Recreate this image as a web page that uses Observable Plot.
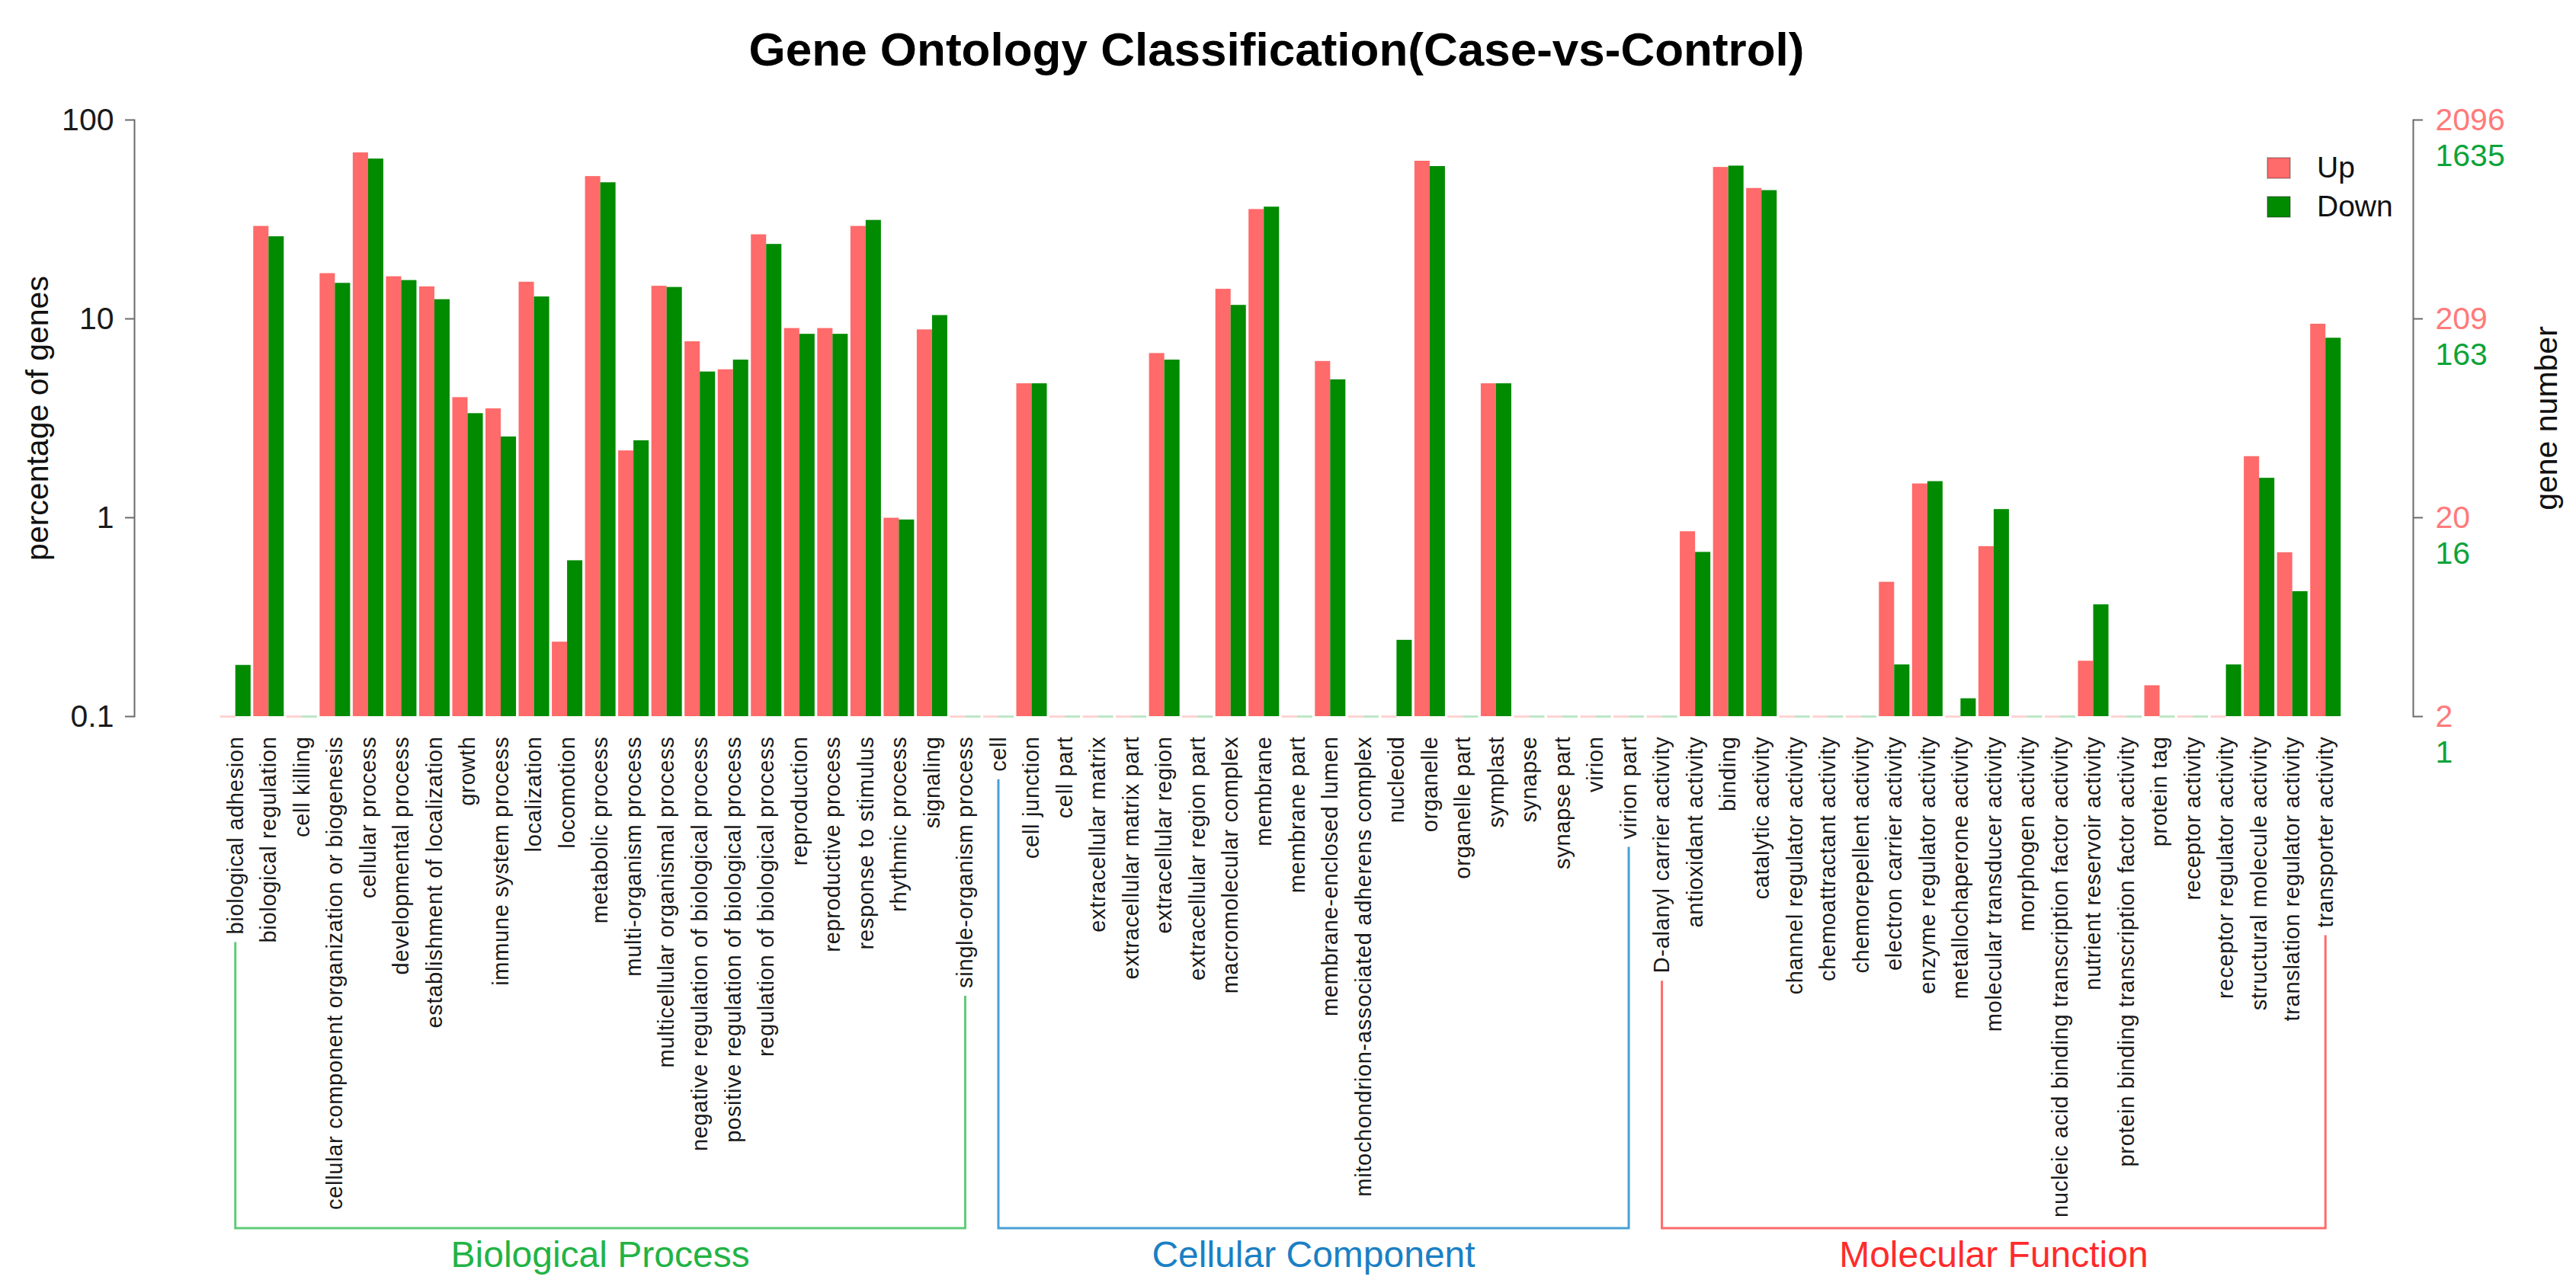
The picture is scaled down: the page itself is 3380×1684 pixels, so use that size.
<!DOCTYPE html>
<html>
<head>
<meta charset="utf-8">
<script src="https://cdn.jsdelivr.net/npm/d3@7"></script>
<script src="https://cdn.jsdelivr.net/npm/@observablehq/plot@0.6"></script>
<style>
html,body{margin:0;padding:0;background:#fff;}
body{width:3380px;height:1684px;overflow:hidden;font-family:"Liberation Sans",Arial,sans-serif;}
#wrap{position:relative;width:3380px;height:1684px;}
#title{height:120px;line-height:130px;text-align:center;font-size:62px;font-weight:bold;color:#000;padding-right:30px;white-space:nowrap;}
#chart{height:1564px;}
#legend{position:absolute;left:2975px;top:195px;}
#legend div div{line-height:50px;font-size:39px;color:#111;font-family:"Liberation Sans",Arial,sans-serif;}
#legend svg{margin-right:35px !important;}
#legend svg rect{stroke:rgba(0,0,0,0.3);stroke-width:1.5px;}
#chart g[aria-label="x-axis tick label"]{letter-spacing:0.7px;}
</style>
</head>
<body>
<div id="wrap">
  <div id="title">Gene Ontology Classification(Case-vs-Control)</div>
  <div id="chart"></div>
  <div id="legend"></div>
</div>
<script>
// ---------------- data ----------------
const groups = ["Biological Process", "Cellular Component", "Molecular Function"];
const series = ["Up", "Down"];

const bpTerms = ["biological adhesion","biological regulation","cell killing","cellular component organization or biogenesis","cellular process","developmental process","establishment of localization","growth","immune system process","localization","locomotion","metabolic process","multi-organism process","multicellular organismal process","negative regulation of biological process","positive regulation of biological process","regulation of biological process","reproduction","reproductive process","response to stimulus","rhythmic process","signaling","single-organism process"];
const bpUp   = [0, 29.2, 0, 16.9, 68.4, 16.3, 14.5, 4.02, 3.53, 15.3, 0.237, 52.0, 2.17, 14.6, 7.68, 5.55, 26.5, 8.95, 8.95, 29.2, 0.995, 8.81, 0];
const bpDown = [0.181, 25.9, 0, 15.1, 63.7, 15.6, 12.5, 3.34, 2.55, 12.9, 0.608, 48.4, 2.44, 14.4, 5.41, 6.21, 23.7, 8.37, 8.37, 31.3, 0.975, 10.4, 0];

const ccTerms = ["cell","cell junction","cell part","extracellular matrix","extracellular matrix part","extracellular region","extracellular region part","macromolecular complex","membrane","membrane part","membrane-enclosed lumen","mitochondrion-associated adherens complex","nucleoid","organelle","organelle part","symplast","synapse","synapse part","virion","virion part"];
const ccUp   = [0, 4.72, 0, 0, 0, 6.70, 0, 14.1, 35.5, 0, 6.11, 0, 0, 62.1, 0, 4.72, 0, 0, 0, 0];
const ccDown = [0, 4.72, 0, 0, 0, 6.21, 0, 11.7, 36.5, 0, 4.94, 0, 0.242, 58.4, 0, 4.72, 0, 0, 0, 0];

const mfTerms = ["D-alanyl carrier activity","antioxidant activity","binding","catalytic activity","channel regulator activity","chemoattractant activity","chemorepellent activity","electron carrier activity","enzyme regulator activity","metallochaperone activity","molecular transducer activity","morphogen activity","nucleic acid binding transcription factor activity","nutrient reservoir activity","protein binding transcription factor activity","protein tag","receptor activity","receptor regulator activity","structural molecule activity","translation regulator activity","transporter activity"];
const mfUp   = [0, 0.851, 57.8, 45.3, 0, 0, 0, 0.474, 1.48, 0, 0.716, 0, 0, 0.190, 0, 0.143, 0, 0, 2.03, 0.667, 9.41];
const mfDown = [0, 0.670, 58.7, 44.2, 0, 0, 0, 0.182, 1.52, 0.123, 1.10, 0, 0, 0.365, 0, 0, 0, 0.182, 1.58, 0.425, 8.00];

const yTicks = [0.1, 1, 10, 100];
const yTickLabels = ["0.1", "1", "10", "100"];
const upCountLabels = ["2", "20", "209", "2096"];
const downCountLabels = ["1", "16", "163", "1635"];

// ---------------- styles ----------------
const seriesColors = ["#FF6A6A", "#008B00"];
const stubColors = ["#FFD2D2", "#BDE6C6"];
const groupTextColors = ["#22B345", "#1A80C4", "#FF2B2B"];
const groupLineColors = ["#5ECB78", "#4A9FD6", "#FF6A6A"];
const countColors = ["#FF7A7A", "#0DA33A"];
const FONT = "Liberation Sans, Arial, sans-serif";

// ---------------- table ----------------
const groupTerms = [bpTerms, ccTerms, mfTerms];
const groupUp = [bpUp, ccUp, mfUp];
const groupDown = [bpDown, ccDown, mfDown];
const terms = groupTerms.flat();
const rows = [];
groupTerms.forEach((ts, g) => ts.forEach((t, i) => {
  rows.push({group: groups[g], term: t, series: series[0], value: groupUp[g][i]});
  rows.push({group: groups[g], term: t, series: series[1], value: groupDown[g][i]});
}));
const yMin = yTicks[0], yMax = yTicks[yTicks.length - 1];
const fmtLeft = new Map(yTicks.map((v, i) => [v, yTickLabels[i]]));
const fmtUp = new Map(yTicks.map((v, i) => [v, upCountLabels[i]]));
const fmtDown = new Map(yTicks.map((v, i) => [v, downCountLabels[i]]));

const W = 3380, H = 1564;

function build(half) {
  const upBars = rows.filter(d => d.series === series[0] && d.value > 0);
  const downBars = rows.filter(d => d.series === series[1] && d.value > 0);
  const upZero = rows.filter(d => d.series === series[0] && !(d.value > 0));
  const downZero = rows.filter(d => d.series === series[1] && !(d.value > 0));
  return Plot.plot({
    width: W, height: H,
    marginLeft: 176, marginRight: 214, marginTop: 37, marginBottom: 744,
    style: {fontFamily: FONT, background: "white", overflow: "visible"},
    x: {type: "band", domain: terms, paddingInner: 0.08, paddingOuter: 0.04, insetLeft: 111, insetRight: 93, axis: null, label: null},
    y: {type: "log", domain: [yMin, yMax], axis: null, label: null},
    marks: [
      Plot.tickY(upZero, {x: "term", y: () => yMin, stroke: stubColors[0], strokeWidth: 3, insetRight: half}),
      Plot.tickY(downZero, {x: "term", y: () => yMin, stroke: stubColors[1], strokeWidth: 3, insetLeft: half}),
      Plot.barY(upBars, {x: "term", y1: () => yMin, y2: "value", fill: seriesColors[0], insetRight: half}),
      Plot.barY(downBars, {x: "term", y1: () => yMin, y2: "value", fill: seriesColors[1], insetLeft: half}),
      Plot.frame({anchor: "left", stroke: "#6b6b6b", strokeWidth: 2}),
      Plot.frame({anchor: "right", stroke: "#6b6b6b", strokeWidth: 2}),
      Plot.axisY(yTicks, {anchor: "left", label: null, tickSize: 12, tickPadding: 15, strokeWidth: 2, stroke: "#6b6b6b", fill: "#1a1a1a", fontSize: 41, tickFormat: d => fmtLeft.get(d)}),
      Plot.axisY(yTicks, {anchor: "right", label: null, tickSize: 12, tickPadding: 17, strokeWidth: 2, stroke: "#6b6b6b", fill: countColors[0], fontSize: 41, tickFormat: d => fmtUp.get(d)}),
      Plot.axisY(yTicks, {anchor: "right", label: null, tickSize: 0, tickPadding: 29, dy: 47, fill: countColors[1], fontSize: 41, tickFormat: d => fmtDown.get(d)}),
      Plot.axisX({anchor: "bottom", label: null, tickRotate: -90, tickSize: 0, tickPadding: 26, fontSize: 29, fill: "#1a1a1a"}),
      Plot.text(["percentage of genes"], {frameAnchor: "left", textAnchor: "middle", lineAnchor: "middle", rotate: -90, dx: -127, fontSize: 41, fill: "#111"}),
      Plot.text(["gene number"], {frameAnchor: "right", textAnchor: "middle", lineAnchor: "middle", rotate: -90, dx: 175, fontSize: 41, fill: "#111"})
    ]
  });
}

const probe = build(0);
const half = probe.scale("x").bandwidth / 2;
const plot = build(half);
document.getElementById("chart").appendChild(plot);

// legend
const legend = Plot.legend({
  legend: "swatches",
  color: {type: "ordinal", domain: series, range: seriesColors},
  columns: 1, swatchWidth: 30, swatchHeight: 27,
  style: {fontSize: "39px", fontFamily: FONT}
});
document.getElementById("legend").appendChild(legend);

// group brackets, positioned from Plot's x scale and the rendered tick labels
const xs = plot.scale("x");
const svgRect = plot.getBoundingClientRect();
const bottoms = new Map();
plot.querySelectorAll('g[aria-label="x-axis tick label"] text').forEach(n => {
  const r = n.getBoundingClientRect();
  bottoms.set(n.textContent, r.bottom - svgRect.top);
});
const maxBottom = d3.max([...bottoms.values()]);
const yBar = maxBottom + 14;
const svg = d3.select(plot);
const gB = svg.append("g").attr("aria-label", "group brackets");
groupTerms.forEach((ts, g) => {
  const f = ts[0], l = ts[ts.length - 1];
  const xf = xs.apply(f) + xs.bandwidth / 2;
  const xl = xs.apply(l) + xs.bandwidth / 2;
  const yf = (bottoms.get(f) ?? maxBottom) + 10;
  const yl = (bottoms.get(l) ?? maxBottom) + 10;
  gB.append("path")
    .attr("d", `M${xf},${yf}V${yBar}H${xl}V${yl}`)
    .attr("fill", "none").attr("stroke", groupLineColors[g]).attr("stroke-width", 3);
  gB.append("text")
    .attr("x", (xf + xl) / 2).attr("y", yBar + 38)
    .attr("text-anchor", "middle").attr("dominant-baseline", "middle")
    .attr("font-size", 48).attr("font-family", FONT)
    .attr("fill", groupTextColors[g]).text(groups[g]);
});
</script>
</body>
</html>
